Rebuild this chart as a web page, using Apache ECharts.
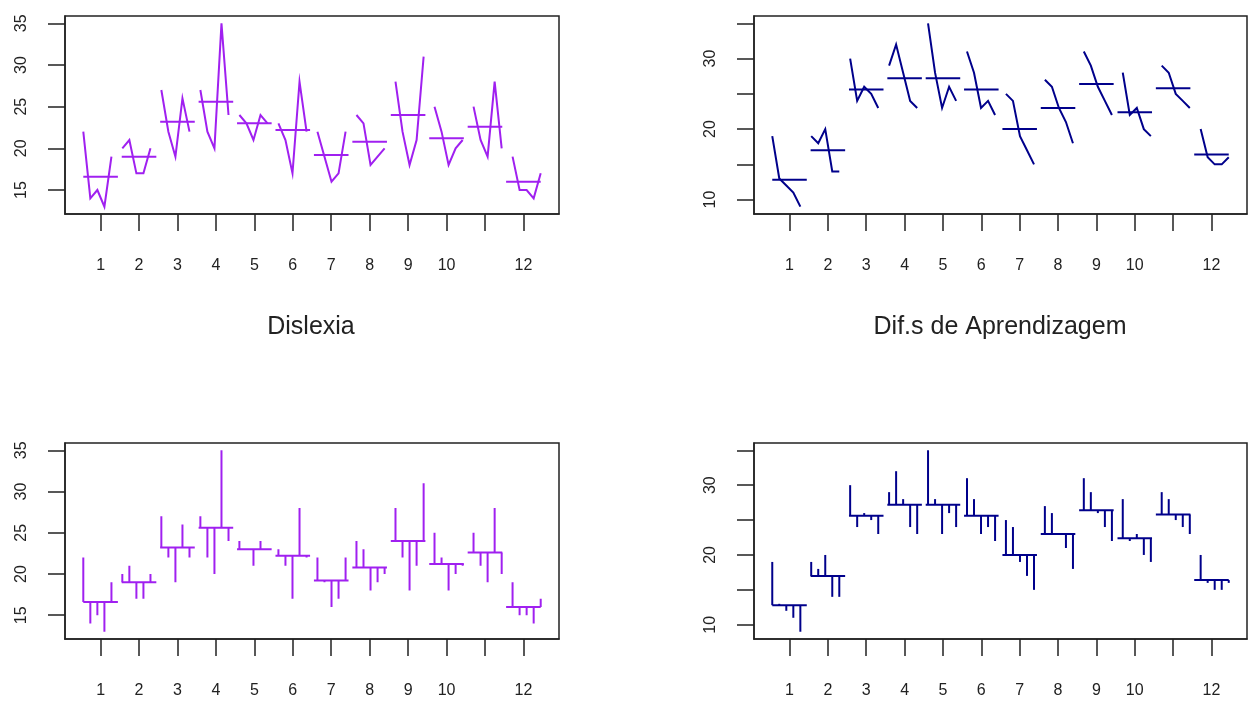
<!DOCTYPE HTML>
<html><head>
<meta charset="utf-8">
<title>monthplot</title>
<script src="https://cdn.jsdelivr.net/npm/echarts@6/dist/echarts.min.js"></script>
<style>
html,body{margin:0;padding:0;background:#fff}
#main{width:1249px;height:702px}
</style>
</head>
<body>
<div id="main"></div>
<script type="text/javascript">
// valores por mes (5 anos cada)
var dislexia = [
  [22,14,15,13,19], [20,21,17,17,20], [27,22,19,26,22], [27,22,20,35,24],
  [24,23,21,24,23], [23,21,17,28,22], [22,19,16,17,22], [24,23,18,19,20],
  [28,22,18,21,31], [25,22,18,20,21], [25,21,19,28,20], [19,15,15,14,17]
];
var difAprend = [
  [19,13,12,11,9], [19,18,20,14,14], [30,24,26,25,23], [29,32,28,24,23],
  [35,28,23,26,24], [31,28,23,24,22], [25,24,19,17,15], [27,26,23,21,18],
  [31,29,26,24,22], [28,22,23,20,19], [29,28,25,24,23], [20,16,15,15,16]
];
var monthTicks = [1,2,3,4,5,6,7,8,9,10,11,12];
var monthLabels = [1,2,3,4,5,6,7,8,9,10,12];   // o 11 some no original
var ticksDis = [15,20,25,30,35];
var labelsDis = [15,20,25,30,35];
var ticksDif = [10,15,20,25,30,35];
var labelsDif = [10,20,30];

var nObs = 60;
var font = "'Liberation Sans', Arial, sans-serif";

function mean(a){ var s=0; for(var i=0;i<a.length;i++) s+=a[i]; return s/a.length; }
// posicao de cada ano dentro do mes (como no monthplot do R)
function xPos(m, k){ var t = k*12 + m; return m - 0.45 + 0.9*(t-1)/(nObs-1); }

function seg(p0, p1, color){
  return {type:'line', shape:{x1:p0[0],y1:p0[1],x2:p1[0],y2:p1[1]}, style:{stroke:color, lineWidth:2}};
}

function panel(data, type, color, gi){
  return {
    type:'custom', xAxisIndex:gi, yAxisIndex:gi, coordinateSystem:'cartesian2d',
    encode:{x:0, y:1}, silent:true, clip:false,
    data: data.map(function(v,i){ return [i+1, mean(v)]; }),
    renderItem: function(params, api){
      var m = params.dataIndex + 1, vals = data[params.dataIndex], base = mean(vals);
      var ch = [seg(api.coord([m-0.45, base]), api.coord([m+0.45, base]), color)];
      if (type === 'l') {
        var pts = vals.map(function(v,k){ return api.coord([xPos(m,k), v]); });
        ch.push({type:'polyline', shape:{points:pts}, style:{stroke:color, fill:null, lineWidth:2}});
      } else {
        vals.forEach(function(v,k){
          ch.push(seg(api.coord([xPos(m,k), base]), api.coord([xPos(m,k), v]), color));
        });
      }
      return {type:'group', children:ch};
    }
  };
}

function xAx(gi){
  return {
    type:'value', gridIndex:gi, min:0.074, max:12.926,
    splitLine:{show:false},
    axisLine:{show:true, lineStyle:{color:'#222', width:1.5}},
    axisTick:{customValues:monthTicks, length:17, lineStyle:{color:'#222', width:1.5}},
    axisLabel:{customValues:monthLabels, margin:44, fontSize:16, color:'#222', fontFamily:font}
  };
}
function yAx(gi, mn, mx, ticks, labels){
  return {
    type:'value', gridIndex:gi, min:mn, max:mx,
    splitLine:{show:false},
    axisLine:{show:true, lineStyle:{color:'#222', width:1.5}},
    axisTick:{customValues:ticks, length:17, lineStyle:{color:'#222', width:1.5}},
    axisLabel:{customValues:labels, rotate:90, margin:35, fontSize:16, color:'#222', fontFamily:font}
  };
}

var myChart = echarts.init(document.getElementById('main'));
var purple = '#A020F0', navy = '#00008B';
var g = {show:true, borderColor:'#222', borderWidth:1.5, containLabel:false};

option = {
  backgroundColor:'#fff',
  animation:false,
  grid:[
    Object.assign({left:65, top:16, width:494, height:198}, g),
    Object.assign({left:754, top:16, width:493, height:198}, g),
    Object.assign({left:65, top:443, width:494, height:196}, g),
    Object.assign({left:754, top:443, width:493, height:196}, g)
  ],
  xAxis:[xAx(0), xAx(1), xAx(2), xAx(3)],
  yAxis:[
    yAx(0, 12.12, 35.88, ticksDis, labelsDis),
    yAx(1, 7.96, 36.04, ticksDif, labelsDif),
    yAx(2, 12.12, 35.88, ticksDis, labelsDis),
    yAx(3, 7.96, 36.04, ticksDif, labelsDif)
  ],
  graphic:[
    {type:'text', x:311, y:327, style:{text:'Dislexia', fontSize:25, fontFamily:font, fill:'#222', align:'center', verticalAlign:'middle'}},
    {type:'text', x:1000, y:327, style:{text:'Dif.s de Aprendizagem', fontSize:25, fontFamily:font, fill:'#222', align:'center', verticalAlign:'middle'}}
  ],
  series:[
    panel(dislexia, 'l', purple, 0),
    panel(difAprend, 'l', navy, 1),
    panel(dislexia, 'h', purple, 2),
    panel(difAprend, 'h', navy, 3)
  ]
};
myChart.setOption(option);
</script>
</body>
</html>
